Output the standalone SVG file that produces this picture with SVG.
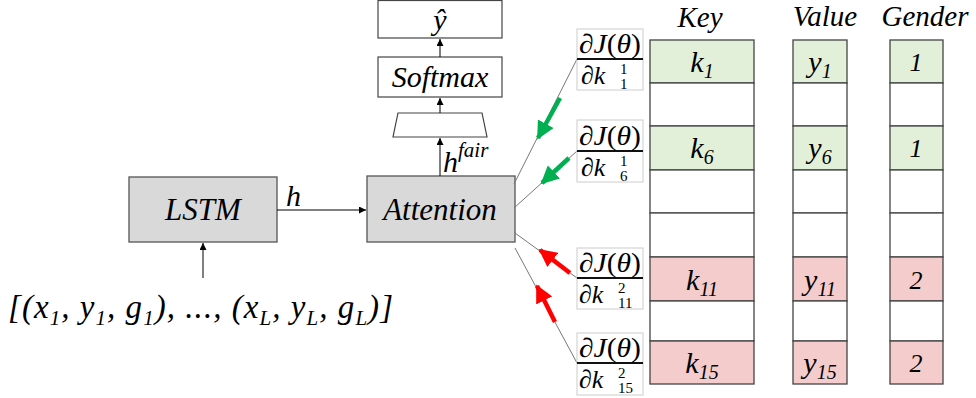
<svg xmlns="http://www.w3.org/2000/svg" width="976" height="398" viewBox="0 0 976 398">
<defs>
<marker id="ah" viewBox="0 0 10 10" refX="10" refY="5" markerWidth="7" markerHeight="7" markerUnits="userSpaceOnUse" orient="auto"><path d="M0,0 L10,5 L0,10 z" fill="#000"/></marker>
<marker id="ahg" viewBox="0 0 10 10" refX="9" refY="5" markerWidth="4" markerHeight="4" orient="auto"><path d="M0,0 L10,5 L0,10 z" fill="#00b050"/></marker>
<marker id="ahr" viewBox="0 0 10 10" refX="9" refY="5" markerWidth="4" markerHeight="4" orient="auto"><path d="M0,0 L10,5 L0,10 z" fill="#ff0000"/></marker>
</defs>
<style>
text{font-family:"Liberation Serif","Times New Roman",Tinos,"Noto Serif","DejaVu Serif","FreeSerif","Nimbus Roman",Times,serif}
.it{font-style:italic;fill:#000}
.rm{fill:#000}
.box{fill:#d9d9d9;stroke:#555;stroke-width:1.3}
.wbox{fill:#fff;stroke:#444;stroke-width:1.2}
.cell{stroke:#444;stroke-width:1.3}
.g{fill:#e2f0d9}
.r{fill:#f4cccc}
.w{fill:#fff}
.fb{fill:#fff;stroke:#ccc;stroke-width:1}
.fl{stroke:#111;stroke-width:2}
.thin{stroke:#777;stroke-width:1;fill:none}
.conn{stroke:#000;stroke-width:1;fill:none}
</style>
<rect width="976" height="398" fill="#fff"/>

<g id="yhat"><rect class="wbox" x="378" y="0.5" width="124" height="37.5"/><text class="it" x="440" y="30" font-size="30" text-anchor="middle">ŷ</text></g>
<g id="softmax"><rect class="wbox" x="378" y="57" width="124" height="40"/><text class="it" x="440" y="87" font-size="30" text-anchor="middle">Softmax</text></g>
<g id="trap"><polygon class="wbox" points="398,113 482,113 487,137 393,137"/></g>
<g id="lstm"><rect class="box" x="129" y="177" width="148" height="65"/><text class="it" x="203" y="220" font-size="31" text-anchor="middle">LSTM</text></g>
<g id="attention"><rect class="box" x="367" y="176" width="148" height="66"/><text class="it" x="440" y="220" font-size="31" text-anchor="middle">Attention</text></g>
<g id="input"><text class="it" x="8" y="318" font-size="33" textLength="385" lengthAdjust="spacing">[(x<tspan font-size="21" dy="7">1</tspan><tspan dy="-7">, y</tspan><tspan font-size="21" dy="7">1</tspan><tspan dy="-7">, g</tspan><tspan font-size="21" dy="7">1</tspan><tspan dy="-7">), ..., (x</tspan><tspan font-size="21" dy="7">L</tspan><tspan dy="-7">, y</tspan><tspan font-size="21" dy="7">L</tspan><tspan dy="-7">, g</tspan><tspan font-size="21" dy="7">L</tspan><tspan dy="-7">)]</tspan></text></g>

<g id="connectors">
<line class="conn" x1="203" y1="278" x2="203" y2="243" marker-end="url(#ah)"/>
<line class="conn" x1="277" y1="210" x2="366" y2="210" marker-end="url(#ah)"/>
<line class="conn" x1="440" y1="176" x2="440" y2="138" marker-end="url(#ah)"/>
<line class="conn" x1="440" y1="113" x2="440" y2="98" marker-end="url(#ah)"/>
<line class="conn" x1="440" y1="57" x2="440" y2="39" marker-end="url(#ah)"/>
<line class="thin" x1="514" y1="184" x2="577" y2="59"/>
<line class="thin" x1="514" y1="208" x2="577" y2="151"/>
<line class="thin" x1="515" y1="233" x2="577" y2="278"/>
<line class="thin" x1="515" y1="248" x2="577" y2="363"/>
<line x1="560" y1="98" x2="538" y2="138" stroke="#00b050" stroke-width="4.5" marker-end="url(#ahg)"/>
<line x1="569" y1="158" x2="542" y2="183" stroke="#00b050" stroke-width="4.5" marker-end="url(#ahg)"/>
<line x1="570" y1="273" x2="540" y2="250" stroke="#ff0000" stroke-width="4.5" marker-end="url(#ahr)"/>
<line x1="555" y1="322" x2="537" y2="286" stroke="#ff0000" stroke-width="4.5" marker-end="url(#ahr)"/>
</g>
<g id="labels">
<text class="it" x="286" y="206" font-size="30">h</text>
<text class="it" x="443" y="172" font-size="30">h<tspan font-size="21" dy="-15">fair</tspan></text>
</g>

<g id="grad1"><rect class="fb" x="577" y="29" width="66" height="61"/><line class="fl" x1="577" y1="59" x2="643" y2="59"/>
<text class="rm" x="579" y="53" font-size="27" textLength="62" lengthAdjust="spacingAndGlyphs">∂<tspan font-style="italic">J</tspan>(<tspan font-style="italic">θ</tspan>)</text>
<text class="rm" x="581" y="84" font-size="26">∂<tspan font-style="italic">k</tspan></text><text class="rm" x="620" y="74" font-size="15">1</text><text class="rm" x="620" y="89" font-size="15">1</text></g>
<g id="grad6"><rect class="fb" x="577" y="120" width="66" height="62"/><line class="fl" x1="577" y1="151" x2="643" y2="151"/>
<text class="rm" x="579" y="145" font-size="27" textLength="62" lengthAdjust="spacingAndGlyphs">∂<tspan font-style="italic">J</tspan>(<tspan font-style="italic">θ</tspan>)</text>
<text class="rm" x="581" y="176" font-size="26">∂<tspan font-style="italic">k</tspan></text><text class="rm" x="620" y="166" font-size="15">1</text><text class="rm" x="620" y="181" font-size="15">6</text></g>
<g id="grad11"><rect class="fb" x="577" y="248" width="66" height="61"/><line class="fl" x1="577" y1="278" x2="643" y2="278"/>
<text class="rm" x="579" y="272" font-size="27" textLength="62" lengthAdjust="spacingAndGlyphs">∂<tspan font-style="italic">J</tspan>(<tspan font-style="italic">θ</tspan>)</text>
<text class="rm" x="579" y="303" font-size="26">∂<tspan font-style="italic">k</tspan></text><text class="rm" x="618" y="293" font-size="15">2</text><text class="rm" x="618" y="308" font-size="15">11</text></g>
<g id="grad15"><rect class="fb" x="577" y="333" width="66" height="62"/><line class="fl" x1="577" y1="363" x2="643" y2="363"/>
<text class="rm" x="579" y="357" font-size="27" textLength="62" lengthAdjust="spacingAndGlyphs">∂<tspan font-style="italic">J</tspan>(<tspan font-style="italic">θ</tspan>)</text>
<text class="rm" x="579" y="388" font-size="26">∂<tspan font-style="italic">k</tspan></text><text class="rm" x="618" y="378" font-size="15">2</text><text class="rm" x="618" y="393" font-size="15">15</text></g>

<g id="headers">
<text class="it" x="700" y="27" font-size="29" text-anchor="middle">Key</text>
<text class="it" x="825" y="26" font-size="29" text-anchor="middle">Value</text>
<text class="it" x="925" y="26" font-size="29" text-anchor="middle">Gender</text>
</g>

<g id="key-column">
<rect class="cell g" x="650" y="40" width="104" height="43"/>
<rect class="cell w" x="650" y="83" width="104" height="43"/>
<rect class="cell g" x="650" y="126" width="104" height="44"/>
<rect class="cell w" x="650" y="170" width="104" height="43"/>
<rect class="cell w" x="650" y="213" width="104" height="44"/>
<rect class="cell r" x="650" y="257" width="104" height="44"/>
<rect class="cell w" x="650" y="301" width="104" height="40"/>
<rect class="cell r" x="650" y="341" width="104" height="43"/>
<text class="it" x="702" y="72" font-size="30" text-anchor="middle">k<tspan font-size="20" dy="6">1</tspan></text>
<text class="it" x="702" y="158" font-size="30" text-anchor="middle">k<tspan font-size="20" dy="6">6</tspan></text>
<text class="it" x="702" y="290" font-size="30" text-anchor="middle">k<tspan font-size="20" dy="6">11</tspan></text>
<text class="it" x="702" y="373" font-size="30" text-anchor="middle">k<tspan font-size="20" dy="6">15</tspan></text>
</g>
<g id="value-column">
<rect class="cell g" x="793" y="40" width="54" height="43"/>
<rect class="cell w" x="793" y="83" width="54" height="43"/>
<rect class="cell g" x="793" y="126" width="54" height="44"/>
<rect class="cell w" x="793" y="170" width="54" height="43"/>
<rect class="cell w" x="793" y="213" width="54" height="44"/>
<rect class="cell r" x="793" y="257" width="54" height="44"/>
<rect class="cell w" x="793" y="301" width="54" height="40"/>
<rect class="cell r" x="793" y="341" width="54" height="43"/>
<text class="it" x="820" y="72" font-size="30" text-anchor="middle">y<tspan font-size="20" dy="6">1</tspan></text>
<text class="it" x="820" y="158" font-size="30" text-anchor="middle">y<tspan font-size="20" dy="6">6</tspan></text>
<text class="it" x="820" y="290" font-size="30" text-anchor="middle">y<tspan font-size="20" dy="6">11</tspan></text>
<text class="it" x="820" y="373" font-size="30" text-anchor="middle">y<tspan font-size="20" dy="6">15</tspan></text>
</g>
<g id="gender-column">
<rect class="cell g" x="890" y="40" width="53" height="43"/>
<rect class="cell w" x="890" y="83" width="53" height="43"/>
<rect class="cell g" x="890" y="126" width="53" height="44"/>
<rect class="cell w" x="890" y="170" width="53" height="43"/>
<rect class="cell w" x="890" y="213" width="53" height="44"/>
<rect class="cell r" x="890" y="257" width="53" height="44"/>
<rect class="cell w" x="890" y="301" width="53" height="40"/>
<rect class="cell r" x="890" y="341" width="53" height="43"/>
<text class="it" x="916" y="71" font-size="26" text-anchor="middle">1</text>
<text class="it" x="916" y="157" font-size="26" text-anchor="middle">1</text>
<text class="it" x="916" y="289" font-size="26" text-anchor="middle">2</text>
<text class="it" x="916" y="372" font-size="26" text-anchor="middle">2</text>
</g>
</svg>
